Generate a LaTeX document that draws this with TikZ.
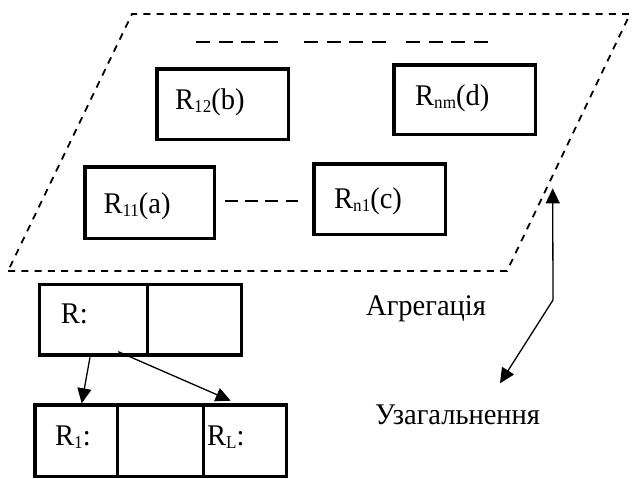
\documentclass[tikz,border=0pt]{standalone}
\usepackage{fontspec}
\setmainfont{Liberation Serif}
\usetikzlibrary{arrows.meta}
% lowered, smaller index after a relation name
\newcommand{\relidx}[1]{\raisebox{-3pt}{\fontsize{18}{18}\selectfont #1}}
% slightly narrowed lettering
\newcommand{\narrow}[1]{\scalebox{0.95}[1]{#1}}
\begin{document}
\begin{tikzpicture}[x=1pt,y=-1pt,
  >={Triangle[length=15pt,width=14pt]},
  box/.style={draw,line width=3.5pt,inner sep=0pt},
  lbl/.style={anchor=base west,inner sep=0pt,font=\fontsize{30}{34}\selectfont},
  frame/.style={line width=1.8pt,dash pattern=on 7pt off 6.3pt},
  dots/.style={line width=1.8pt,dash pattern=on 14pt off 8.7pt},
  shortdots/.style={line width=1.8pt,dash pattern=on 12.5pt off 7.7pt},
  arr/.style={line width=1.3pt,->}]
\useasboundingbox (0,0) rectangle (632,479);

% aggregation plane
\coordinate (p1) at (8,271);
\coordinate (p2) at (507,271);
\coordinate (p3) at (630,14);
\coordinate (p4) at (132,14);
\draw[frame] (p1) -- (p2) -- (p3) -- (p4) -- cycle;

% elided relations along the top
\coordinate (d1a) at (196,42); \coordinate (d1b) at (278,42);
\coordinate (d2a) at (304,42); \coordinate (d2b) at (386,42);
\coordinate (d3a) at (406,42); \coordinate (d3b) at (488,42);
\draw[dots] (d1a) -- (d1b);
\draw[dots] (d2a) -- (d2b);
\draw[dots] (d3a) -- (d3b);

% relations inside the plane
\node[box,minimum width=131.5pt,minimum height=70.5pt] (b12) at (222.5,104) {};
\node[box,minimum width=141.5pt,minimum height=69.5pt] (bnm) at (464.5,99.5) {};
\node[box,minimum width=129.5pt,minimum height=71.5pt] (b11) at (149.5,202.5) {};
\node[box,minimum width=131.5pt,minimum height=70.5pt] (bn1) at (379.5,199) {};

\node[lbl] (t12) at (175,109.3) {\narrow{R\relidx{12}(b)}};
\node[lbl] (tnm) at (415,105) {\narrow{R\relidx{nm}(d)}};
\node[lbl] (t11) at (103.3,213.3) {\narrow{R\relidx{11}(a)}};
\node[lbl] (tn1) at (334,208.3) {\narrow{R\relidx{n1}(c)}};

\coordinate (m1) at (225,201);
\coordinate (m2) at (298,201);
\draw[shortdots] (m1) -- (m2);

% relation R and its specialisations
\node[box,minimum width=108pt,minimum height=70.5pt] (rl) at (93.7,319.8) {};
\node[box,minimum width=93.8pt,minimum height=70.5pt] (rr) at (194.6,319.8) {};
\node[lbl] (tr) at (60.7,323.3) {\narrow{R:}};

\node[box,minimum width=82.3pt,minimum height=71.5pt] (c1) at (76.2,440.8) {};
\node[box,minimum width=86pt,minimum height=71.5pt] (c2) at (160.3,440.8) {};
\node[box,minimum width=83.2pt,minimum height=71.5pt] (c3) at (244.9,440.8) {};
\node[lbl] (t1) at (55,445) {\narrow{R\relidx{1}:}};
\node[lbl] (tl) at (207,445) {\narrow{R\relidx{L}:}};

\coordinate (a1s) at (90,357.3);
\coordinate (a1e) at (81.7,403.3);
\coordinate (a2s) at (118.3,351.7);
\coordinate (a2e) at (230.7,400.7);
\draw[arr] (a1s) -- (a1e);
\draw[arr] (a2s) -- (a2e);

% captions with the two-way arrow
\node[lbl] (agg) at (366,315) {\narrow{Агрегація}};
\node[lbl] (gen) at (375,424.5) {\narrow{Узагальнення}};
\coordinate (j) at (553,300);
\coordinate (up) at (552.7,188.3);
\coordinate (dn) at (500,383.3);
\draw[line width=1.3pt,<->] (up) -- (j) -- (dn);
\end{tikzpicture}
\end{document}
